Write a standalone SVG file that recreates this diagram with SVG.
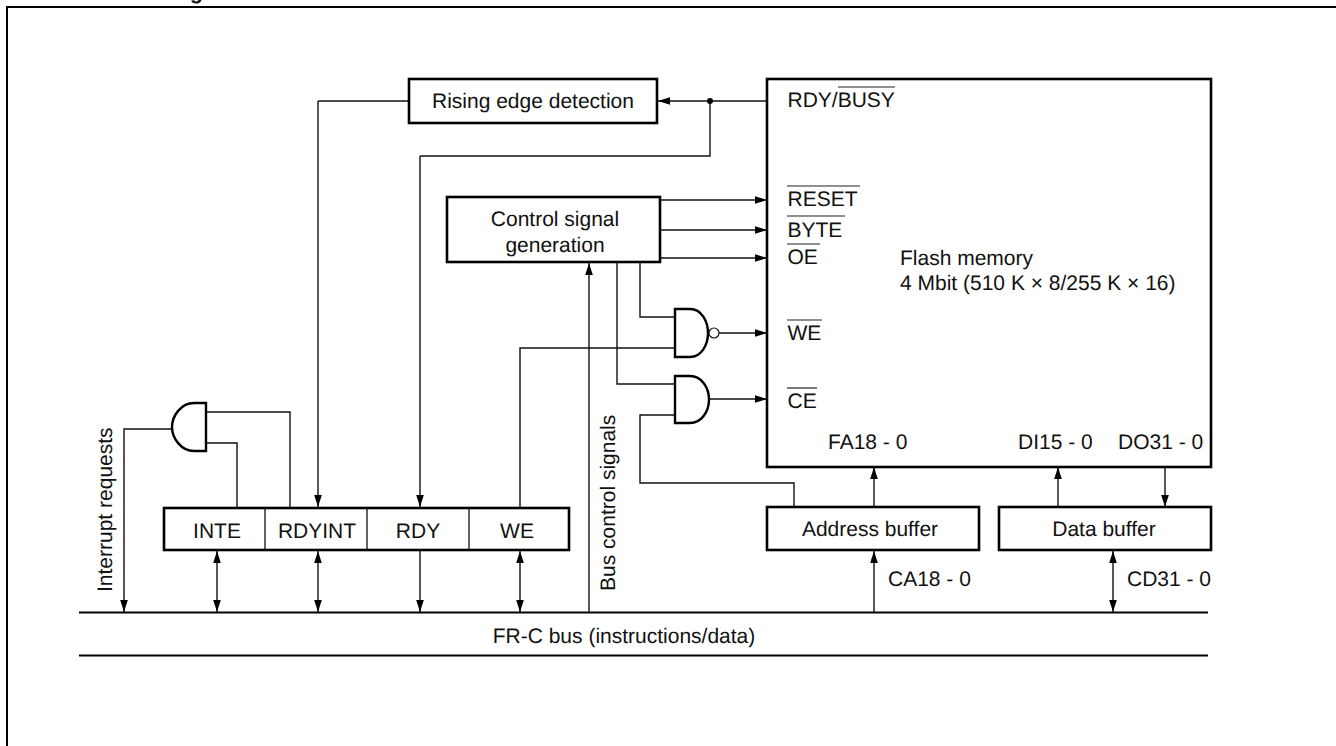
<svg xmlns="http://www.w3.org/2000/svg" width="1336" height="746" viewBox="0 0 1336 746">
<defs>
<marker id="a" markerUnits="userSpaceOnUse" markerWidth="12" markerHeight="8" refX="12" refY="4" orient="auto-start-reverse"><path d="M0 .2L12 4L0 7.800z" fill="#000"/></marker>
</defs>
<style>
text{font-family:"Liberation Sans",Arial,sans-serif;font-size:21px;fill:#111;text-rendering:geometricPrecision}
.m{text-anchor:middle}
.b{fill:#fff;stroke:#000;stroke-width:2.6}
.g{fill:#fff;stroke:#000;stroke-width:2.4}
.c{fill:none;stroke:#111;stroke-width:1.4}
.ar{marker-end:url(#a)}
.da{marker-start:url(#a);marker-end:url(#a)}
.o{stroke:#222;stroke-width:1.2;fill:none}
</style>
<rect width="1336" height="746" fill="#fff"/>
<path d="M7 746V7H1336" fill="none" stroke="#000" stroke-width="2"/>
<text x="190" y="-1" style="font-weight:bold">g</text>
<g id="connectors">
<path class="c ar" d="M767 101H658"/>
<path class="c" d="M710 101V156H420"/>
<path class="c ar" d="M420 156V507"/>
<path class="c" d="M409 101H318"/>
<path class="c ar" d="M318 101V507"/>
<path class="c ar" d="M660 200H767"/>
<path class="c ar" d="M660 230H767"/>
<path class="c ar" d="M660 258H767"/>
<path class="c" d="M640 262V317H675"/>
<path class="c" d="M617 262V384H675"/>
<path class="c ar" d="M589 612V263"/>
<path class="c ar" d="M719 333H767"/>
<path class="c ar" d="M709 399H767"/>
<path class="c" d="M520 507V348H675"/>
<path class="c" d="M675 415H640V483H794V507"/>
<path class="c ar" d="M874 507V467"/>
<path class="c ar" d="M1058 507V467"/>
<path class="c ar" d="M1165 467V507"/>
<path class="c ar" d="M874 612V551"/>
<path class="c da" d="M1113 551V612"/>
<path class="c" d="M206 412H290V507"/>
<path class="c" d="M206 443H237V507"/>
<path class="c ar" d="M172 429H124V612"/>
<path class="c da" d="M217 551V612"/>
<path class="c da" d="M318 551V612"/>
<path class="c ar" d="M420 551V612"/>
<path class="c da" d="M520 551V612"/>
<circle cx="710" cy="101" r="3" fill="#000"/>
</g>
<g id="bus"><path d="M79 612.500H1208M79 655.500H1208" stroke="#000" stroke-width="2"/><text class="m" x="624" y="643">FR-C bus (instructions/data)</text></g>
<g id="edge"><rect class="b" x="409" y="79" width="248" height="44"/><text class="m" x="533" y="108">Rising edge detection</text></g>
<g id="control"><rect class="b" x="447" y="197" width="213" height="65"/><text class="m" x="555" y="226">Control signal</text><text class="m" x="555" y="252">generation</text></g>
<g id="flash"><rect class="b" x="767" y="79" width="444" height="388"/>
<text x="787.500" y="107">RDY/BUSY</text><path class="o" d="M838 87H895"/>
<text x="787.500" y="206">RESET</text><path class="o" d="M787 186H860"/>
<text x="787.500" y="237">BYTE</text><path class="o" d="M787 216H845"/>
<text x="787.500" y="264">OE</text><path class="o" d="M787 244H820"/>
<text x="787.500" y="340">WE</text><path class="o" d="M787 320H822"/>
<text x="787.500" y="408">CE</text><path class="o" d="M787 388H817"/>
<text x="900" y="265">Flash memory</text>
<text x="900" y="290">4 Mbit (510 K × 8/255 K × 16)</text>
<text x="828" y="449">FA18 - 0</text><text x="1018" y="449">DI15 - 0</text><text x="1118" y="449">DO31 - 0</text></g>
<g id="nand"><path class="g" d="M675 309H690C702 309 708 322 708 333C708 344 702 357 690 357H675Z"/><circle cx="714" cy="333" r="5" fill="#fff" stroke="#111" stroke-width="1.2"/></g>
<g id="and1"><path class="g" d="M675 376H690C702 376 709 388 709 399.500C709 411 702 423 690 423H675Z"/></g>
<g id="and2"><path class="g" d="M206 403H194C181 403 172 416 172 427C172 438 181 451 194 451H206Z"/></g>
<g id="address"><rect class="b" x="767" y="507" width="212" height="43"/><text class="m" x="870" y="536">Address buffer</text></g>
<g id="data"><rect class="b" x="999" y="507" width="212" height="43"/><text class="m" x="1104" y="536">Data buffer</text></g>
<g id="registers"><rect class="b" x="164" y="508" width="405" height="42"/><path d="M265 508V550M367 508V550M469 508V550" stroke="#111" stroke-width="1.3"/>
<text class="m" x="217" y="538">INTE</text><text class="m" x="317" y="538">RDYINT</text><text class="m" x="418" y="538">RDY</text><text class="m" x="517" y="538">WE</text></g>
<text x="888" y="586">CA18 - 0</text><text x="1127" y="586">CD31 - 0</text>
<text transform="translate(112 592) rotate(-90)">Interrupt requests</text>
<text transform="translate(615 591) rotate(-90)">Bus control signals</text>
</svg>
